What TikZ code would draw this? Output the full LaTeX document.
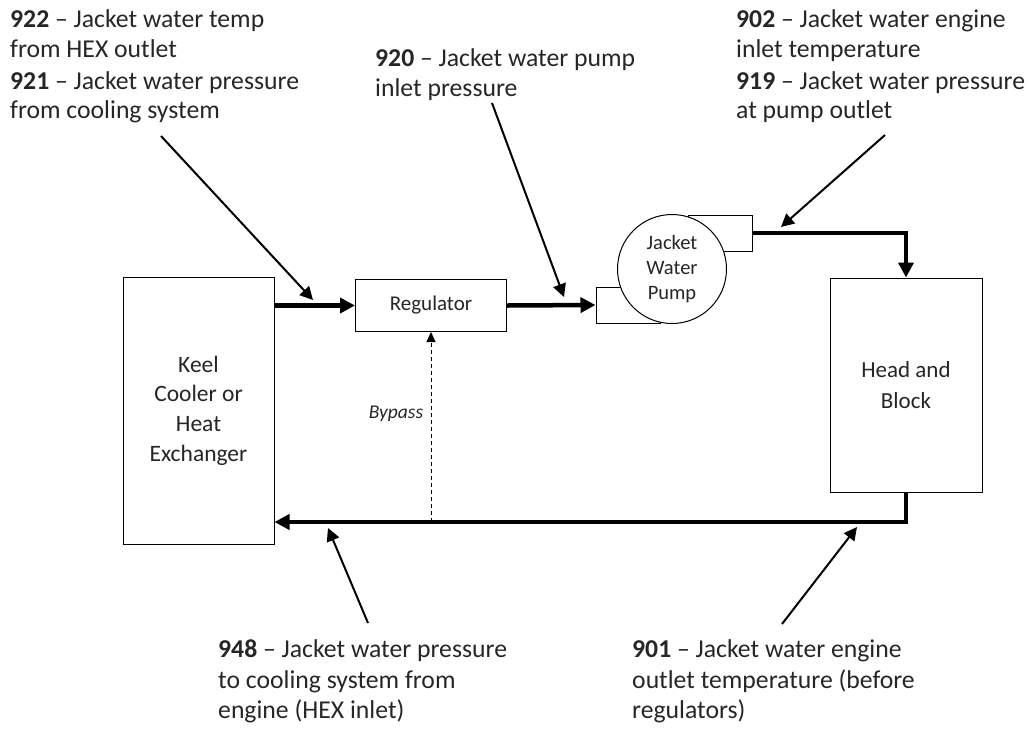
\documentclass[tikz,border=0pt]{standalone}
\usepackage{fontspec}
\setmainfont{Carlito}
\usetikzlibrary{arrows.meta}
\definecolor{ink}{HTML}{262626}

\begin{document}
\begin{tikzpicture}[x=1pt,y=-1pt,
  box/.style={draw, line width=1pt, fill=white, inner sep=0pt, align=center, text=ink},
  pipe/.style={line width=4.5pt, -{Triangle[length=15pt,width=15pt]}},
  pointer/.style={line width=2pt, -{Triangle[length=13pt,width=13pt]}},
  lbl/.style={anchor=base west, inner sep=0pt, text=ink, font=\fontsize{25.7}{29}\selectfont},
]
\useasboundingbox (0,0) rectangle (1030,729);

% main components
\node[box, minimum width=151pt, minimum height=267pt,
      font=\fontsize{23.5}{29.7}\selectfont] (keel) at (198.5,410.5)
      {Keel\\Cooler or\\Heat\\Exchanger};
\node[box, minimum width=151pt, minimum height=52pt,
      font=\fontsize{21}{24}\selectfont] (reg) at (431,305.5) {Regulator};
\node[box, minimum width=152pt, minimum height=214pt,
      font=\fontsize{23}{31}\selectfont] (head) at (906,385) {Head and\\Block};

% pump housing: inlet and outlet stubs behind the round casing
\node[box, minimum width=64pt, minimum height=36pt] (inlet) at (628,305) {};
\node[box, minimum width=64pt, minimum height=36pt] (outlet) at (720,233) {};
\node[box, circle, minimum size=109pt, font=\fontsize{20.5}{25}\selectfont]
      (pump) at (672,269) {Jacket\\Water\\Pump};

% coolant circuit
\coordinate (ret) at (906,522);
\draw[pipe] (keel.east |- reg.west) -- (reg.west);
\draw[pipe] (reg.east) -- (inlet.west);
\draw[pipe] (outlet.east) -| (head.north);
\draw[pipe] (head.south) |- (keel.east |- ret);
\draw[line width=1pt, dash pattern=on 4pt off 3pt,
      -{Triangle[length=10pt,width=9pt]}] (reg.south |- ret) -- (reg.south);
\node[font=\itshape\fontsize{19.5}{22}\selectfont, text=ink, anchor=base] (bypass) at (396,418) {Bypass};

% sensor labels
\node[lbl] (l922a) at (10,27) {\textbf{922} – Jacket water temp};
\node[lbl] (l922b) at (10,57) {from HEX outlet};
\node[lbl] (l921a) at (10,89) {\textbf{921} – Jacket water pressure};
\node[lbl] (l921b) at (10,118) {from cooling system};

\node[lbl] (l920a) at (375,66) {\textbf{920} – Jacket water pump};
\node[lbl] (l920b) at (375,96) {inlet pressure};

\node[lbl] (l902a) at (736,27) {\textbf{902} – Jacket water engine};
\node[lbl] (l902b) at (736,57) {inlet temperature};
\node[lbl] (l919a) at (736,89) {\textbf{919} – Jacket water pressure};
\node[lbl] (l919b) at (736,118) {at pump outlet};

\node[lbl] (l948a) at (218,657) {\textbf{948} – Jacket water pressure};
\node[lbl] (l948b) at (218,688) {to cooling system from};
\node[lbl] (l948c) at (218,718) {engine (HEX inlet)};

\node[lbl] (l901a) at (632,657) {\textbf{901} – Jacket water engine};
\node[lbl] (l901b) at (632,688) {outlet temperature (before};
\node[lbl] (l901c) at (632,718) {regulators)};

% sensor pointers
\coordinate (s921) at (161,136);  \coordinate (t921) at (313,300);
\coordinate (s920) at (492,103);  \coordinate (t920) at (564,297);
\coordinate (s919) at (885,135);  \coordinate (t919) at (781,227);
\coordinate (s948) at (368,623);  \coordinate (t948) at (328,528);
\coordinate (s901) at (782,624);  \coordinate (t901) at (857,527);
\draw[pointer] (s921) -- (t921);
\draw[pointer] (s920) -- (t920);
\draw[pointer] (s919) -- (t919);
\draw[pointer] (s948) -- (t948);
\draw[pointer] (s901) -- (t901);
\end{tikzpicture}
\end{document}
